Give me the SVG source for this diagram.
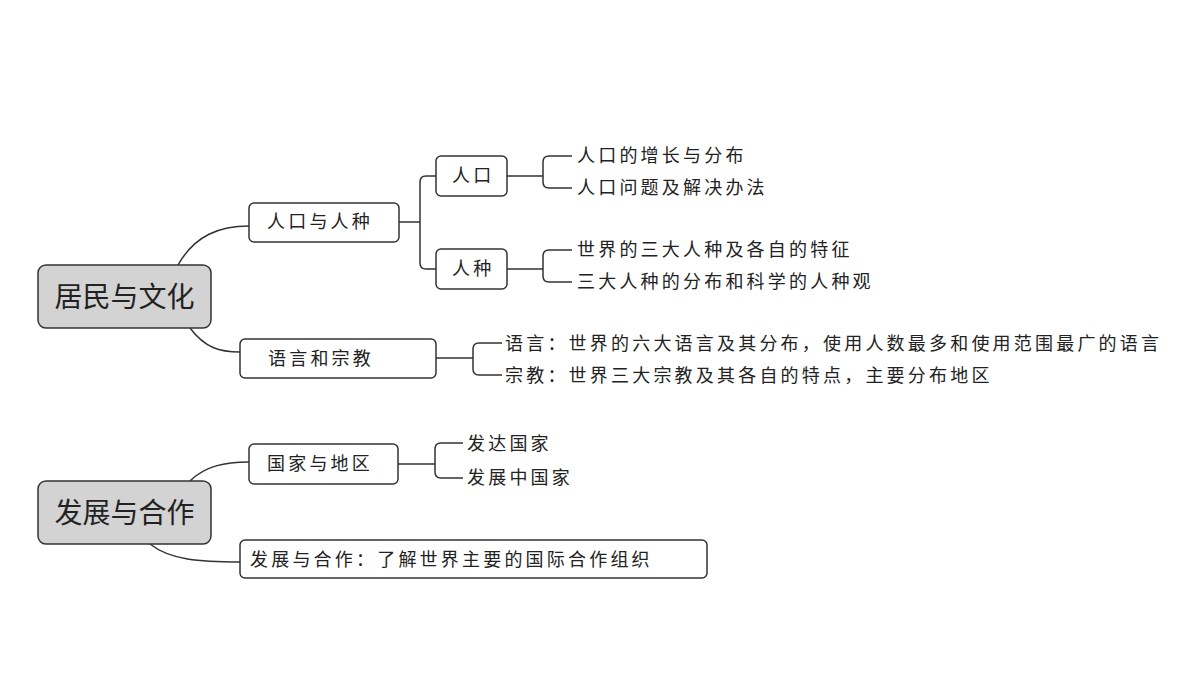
<svg xmlns="http://www.w3.org/2000/svg" width="1200" height="675" viewBox="0 0 1200 675">
<style>
.b{fill:#fff;stroke:#333;stroke-width:1.5}
.r{fill:#d3d3d3;stroke:#333;stroke-width:1.5}
.t{font-family:"Noto Sans CJK SC","Noto Sans",sans-serif;font-size:18px;fill:#222;letter-spacing:3.2px}
.rt{font-family:"Noto Sans CJK SC","Noto Sans",sans-serif;font-size:28px;fill:#222}
.c{fill:none;stroke:#333;stroke-width:1.5}
</style>
<rect width="1200" height="675" fill="#fff"/>
<g id="connectors">
<path class="c" d="M178,265 C195,235 220,226 249,226"/>
<path class="c" d="M190,328 C205,348 220,352 240,352"/>
<path class="c" d="M399,222 H420 M436,176 H426 Q420,176 420,182 V263 Q420,269 426,269 H436"/>
<path class="c" d="M507,176 H543 M572,156 H549 Q543,156 543,162 V182 Q543,188 549,188 H572"/>
<path class="c" d="M507,269 H543 M572,250 H549 Q543,250 543,256 V276 Q543,282 549,282 H572"/>
<path class="c" d="M436,358 H473 M502,343 H479 Q473,343 473,349 V369 Q473,375 479,375 H502"/>
<path class="c" d="M190,481 C205,466 225,462 249,462"/>
<path class="c" d="M150,544 C170,560 200,562 240,562"/>
<path class="c" d="M398,464 H435 M463,443 H441 Q435,443 435,449 V472 Q435,478 441,478 H463"/>
</g>
<g id="root1"><rect class="r" x="38" y="265" width="173" height="63" rx="8"/><text class="rt" x="124.5" y="307" text-anchor="middle">居民与文化</text></g>
<g id="root2"><rect class="r" x="38" y="481" width="173" height="63" rx="8"/><text class="rt" x="124.5" y="523" text-anchor="middle">发展与合作</text></g>
<g id="n1"><rect class="b" x="249" y="203" width="150" height="39" rx="5"/><text class="t" x="267" y="228">人口与人种</text></g>
<g id="n2"><rect class="b" x="436" y="156" width="71" height="40" rx="5"/><text class="t" x="452" y="182">人口</text></g>
<g id="n3"><rect class="b" x="436" y="249" width="71" height="40" rx="5"/><text class="t" x="452" y="275">人种</text></g>
<g id="n4"><rect class="b" x="240" y="339" width="196" height="39" rx="5"/><text class="t" x="268" y="365">语言和宗教</text></g>
<g id="n5"><rect class="b" x="249" y="444" width="149" height="40" rx="5"/><text class="t" x="267" y="470">国家与地区</text></g>
<g id="n6"><rect class="b" x="240" y="540" width="467" height="38" rx="5"/><text class="t" x="250" y="566">发展与合作：了解世界主要的国际合作组织</text></g>
<g id="leaves">
<text class="t" x="577" y="162">人口的增长与分布</text>
<text class="t" x="577" y="194">人口问题及解决办法</text>
<text class="t" x="577" y="256">世界的三大人种及各自的特征</text>
<text class="t" x="577" y="288">三大人种的分布和科学的人种观</text>
<text class="t" x="505" y="350">语言：世界的六大语言及其分布，使用人数最多和使用范围最广的语言</text>
<text class="t" x="505" y="382">宗教：世界三大宗教及其各自的特点，主要分布地区</text>
<text class="t" x="467" y="450">发达国家</text>
<text class="t" x="467" y="484">发展中国家</text>
</g>
</svg>
